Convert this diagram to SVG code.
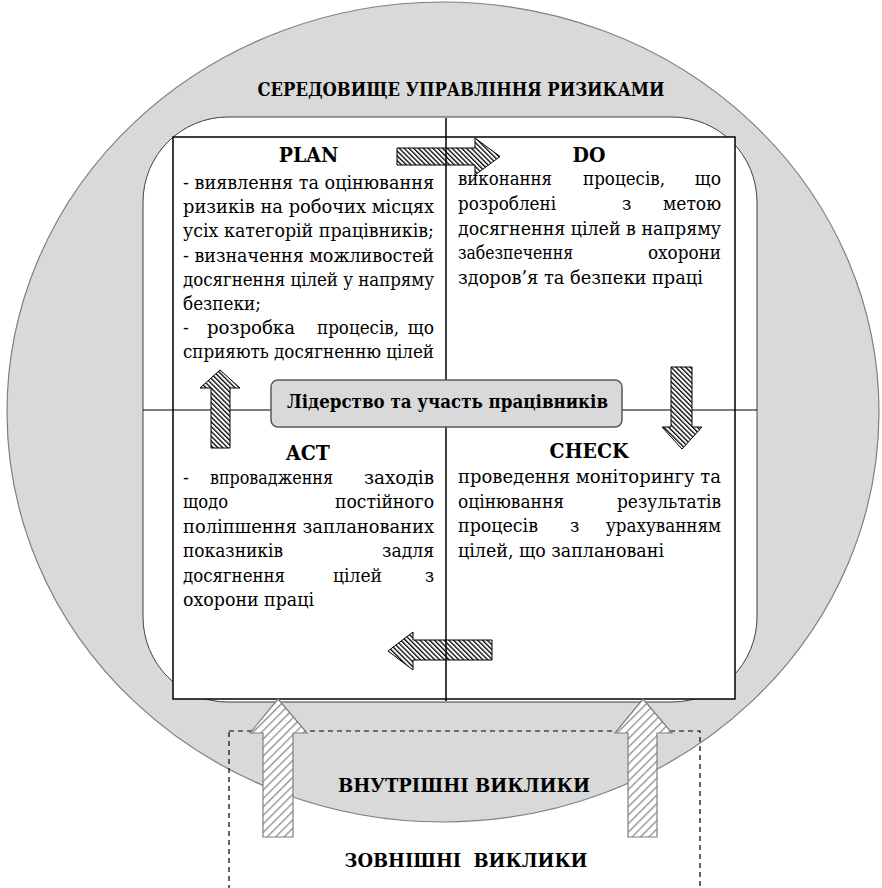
<svg xmlns="http://www.w3.org/2000/svg" width="882" height="888" viewBox="0 0 882 888">
<defs>
<pattern id="hatchDense" patternUnits="userSpaceOnUse" width="3.4" height="3.4" patternTransform="rotate(-45)">
<rect width="3.4" height="3.4" fill="#fff"/>
<rect width="1.3" height="3.4" fill="#000"/>
</pattern>
<pattern id="hatchLight" patternUnits="userSpaceOnUse" width="6" height="6" patternTransform="rotate(45)">
<rect width="6" height="6" fill="#fff"/>
<rect width="1.3" height="6" fill="#8c8c8c"/>
</pattern>
</defs>
<style>
text{font-family:"DejaVu Serif Condensed","DejaVu Serif",serif;fill:#000}
.b{font-weight:bold}
.h{font-weight:bold;font-size:21px;text-anchor:middle}
.t{font-size:19px}
.e{text-anchor:end}
.sa{fill:url(#hatchDense);stroke:#000;stroke-width:1}
.ba{fill:url(#hatchLight);stroke:#7f7f7f;stroke-width:1.2}
</style>
<rect width="882" height="888" fill="#fff"/>
<g id="environment">
<ellipse cx="443" cy="412" rx="436" ry="410" fill="#d9d9d9" stroke="#7f7f7f" stroke-width="1.2"/>
<text class="b" x="461" y="96" font-size="18" text-anchor="middle" textLength="407" lengthAdjust="spacingAndGlyphs">СЕРЕДОВИЩЕ УПРАВЛІННЯ РИЗИКАМИ</text>
</g>
<g id="external">
<rect x="229" y="731" width="471" height="180" fill="none" stroke="#000" stroke-width="1.2" stroke-dasharray="5,4"/>
<text class="b" x="466" y="867" font-size="19" text-anchor="middle" xml:space="preserve" textLength="243" lengthAdjust="spacingAndGlyphs">ЗОВНІШНІ  ВИКЛИКИ</text>
</g>
<g id="internal">
<text class="b" x="464" y="792" font-size="19" text-anchor="middle" textLength="252" lengthAdjust="spacingAndGlyphs">ВНУТРІШНІ ВИКЛИКИ</text>
</g>
<g id="frame">
<rect x="143" y="117" width="614" height="585" rx="85" ry="85" fill="#fff" stroke="#404040" stroke-width="1"/>
<rect x="173" y="137" width="562" height="562" fill="#fff" stroke="#000" stroke-width="1.5"/>
</g>
<g id="connectors">
<line x1="143" y1="410" x2="757" y2="410" stroke="#000" stroke-width="1.2"/>
<path class="sa" d="M397,148 H475 V138 L500,156.5 L475,175 V165 H397 Z"/>
<path class="sa" d="M671,367 H692 V427 H702 L682,449 L662,427 H671 Z"/>
<path class="sa" d="M492,640 H413 V632 L388,651 L413,670 V660 H492 Z"/>
<path class="sa" d="M211,448 V388 H200 L220,370 L240,388 H230 V448 Z"/>
<line x1="446" y1="118" x2="446" y2="701" stroke="#000" stroke-width="1.5"/>
<path class="ba" d="M263,837 V733 H250 L278,699 L307,733 H293 V837 Z"/>
<path class="ba" d="M628,837 V733 H615 L643,699 L672,733 H657 V837 Z"/>
</g>
<g id="leadership">
<rect x="271" y="380" width="351" height="47" rx="7" ry="7" fill="#d9d9d9" stroke="#595959" stroke-width="1.5"/>
<text class="b" x="447.5" y="408" font-size="19" text-anchor="middle" textLength="321" lengthAdjust="spacingAndGlyphs">Лідерство та участь працівників</text>
</g>
<g id="plan">
<text class="h" x="308.5" y="162">PLAN</text>
<text class="t" x="183" y="189" textLength="251" lengthAdjust="spacingAndGlyphs">- виявлення та оцінювання</text>
<text class="t" x="183" y="213.2" textLength="251" lengthAdjust="spacingAndGlyphs">ризиків на робочих місцях</text>
<text class="t" x="183" y="237.4" textLength="251" lengthAdjust="spacingAndGlyphs">усіх категорій працівників;</text>
<text class="t" x="183" y="261.6" textLength="251" lengthAdjust="spacingAndGlyphs">- визначення можливостей</text>
<text class="t" x="183" y="285.8" textLength="251" lengthAdjust="spacingAndGlyphs">досягнення цілей у напряму</text>
<text class="t" x="183" y="310" textLength="78" lengthAdjust="spacingAndGlyphs">безпеки;</text>
<text class="t" y="334.2"><tspan x="183">-</tspan><tspan x="207" textLength="88" lengthAdjust="spacingAndGlyphs">розробка</tspan><tspan x="317" textLength="82" lengthAdjust="spacingAndGlyphs">процесів,</tspan><tspan x="434" class="e">що</tspan></text>
<text class="t" x="183" y="358.4" textLength="251" lengthAdjust="spacingAndGlyphs">сприяють досягненню цілей</text>
</g>
<g id="do">
<text class="h" x="589" y="162">DO</text>
<text class="t" y="185"><tspan x="458" textLength="94" lengthAdjust="spacingAndGlyphs">виконання</tspan><tspan x="583" textLength="82" lengthAdjust="spacingAndGlyphs">процесів,</tspan><tspan x="721" class="e">що</tspan></text>
<text class="t" y="209.8"><tspan x="458" textLength="98" lengthAdjust="spacingAndGlyphs">розроблені</tspan><tspan x="622">з</tspan><tspan x="663" textLength="58" lengthAdjust="spacingAndGlyphs">метою</tspan></text>
<text class="t" x="458" y="234.6" textLength="263" lengthAdjust="spacingAndGlyphs">досягнення цілей в напряму</text>
<text class="t" y="259.4"><tspan x="458" textLength="115" lengthAdjust="spacingAndGlyphs">забезпечення</tspan><tspan x="648" textLength="73" lengthAdjust="spacingAndGlyphs">охорони</tspan></text>
<text class="t" x="458" y="284.2" textLength="245" lengthAdjust="spacingAndGlyphs">здоров’я та безпеки праці</text>
</g>
<g id="act">
<text class="h" x="308" y="460">ACT</text>
<text class="t" y="484"><tspan x="183">-</tspan><tspan x="210" textLength="123" lengthAdjust="spacingAndGlyphs">впровадження</tspan><tspan x="364" textLength="70" lengthAdjust="spacingAndGlyphs">заходів</tspan></text>
<text class="t" y="508.4"><tspan x="183" textLength="45" lengthAdjust="spacingAndGlyphs">щодо</tspan><tspan x="335" textLength="99" lengthAdjust="spacingAndGlyphs">постійного</tspan></text>
<text class="t" x="183" y="532.8" textLength="251" lengthAdjust="spacingAndGlyphs">поліпшення запланованих</text>
<text class="t" y="557.2"><tspan x="183" textLength="100" lengthAdjust="spacingAndGlyphs">показників</tspan><tspan x="382" textLength="52" lengthAdjust="spacingAndGlyphs">задля</tspan></text>
<text class="t" y="581.6"><tspan x="183" textLength="102" lengthAdjust="spacingAndGlyphs">досягнення</tspan><tspan x="333" textLength="49" lengthAdjust="spacingAndGlyphs">цілей</tspan><tspan x="434" class="e">з</tspan></text>
<text class="t" x="183" y="606" textLength="131" lengthAdjust="spacingAndGlyphs">охорони праці</text>
</g>
<g id="check">
<text class="h" x="589" y="458">CHECK</text>
<text class="t" x="458" y="483" textLength="263" lengthAdjust="spacingAndGlyphs">проведення моніторингу та</text>
<text class="t" y="507.5"><tspan x="458" textLength="106" lengthAdjust="spacingAndGlyphs">оцінювання</tspan><tspan x="617" textLength="104" lengthAdjust="spacingAndGlyphs">результатів</tspan></text>
<text class="t" y="532"><tspan x="458" textLength="80" lengthAdjust="spacingAndGlyphs">процесів</tspan><tspan x="570">з</tspan><tspan x="606" textLength="115" lengthAdjust="spacingAndGlyphs">урахуванням</tspan></text>
<text class="t" x="458" y="556.5" textLength="206" lengthAdjust="spacingAndGlyphs">цілей, що заплановані</text>
</g>
</svg>
